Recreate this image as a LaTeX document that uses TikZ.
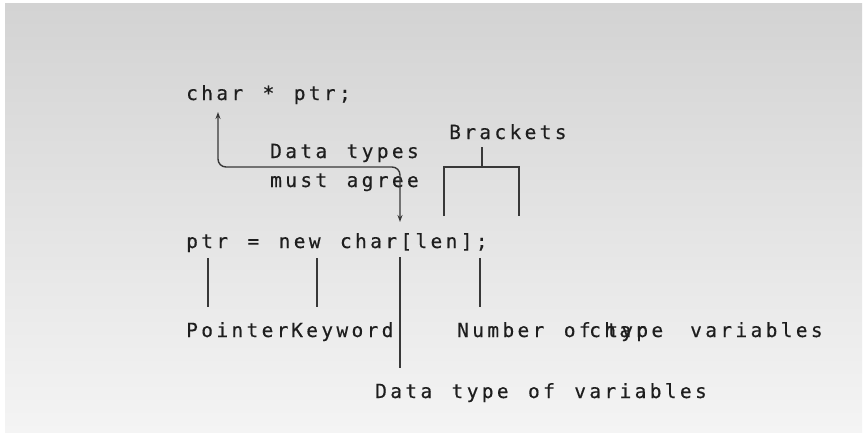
\documentclass[tikz,border=0pt]{standalone}
\usepackage{fontspec}
\usepackage{xcolor}
\usepackage{tikz}
\usetikzlibrary{arrows.meta}
\newfontfamily\codefont{DejaVu Sans Mono}[LetterSpace=17.2, WordSpace={1.286,0,0}, FakeBold=0.4]
\definecolor{bgtop}{HTML}{D3D3D3}
\definecolor{bgbottom}{HTML}{F4F4F4}
\definecolor{inkgray}{HTML}{1E1E1E}
\definecolor{leadgray}{HTML}{383838}

\begin{document}
\begin{tikzpicture}[
    x=1pt, y=-1pt,
    codetext/.style={anchor=base west, inner sep=0pt, text=inkgray,
      font=\codefont\fontsize{19.5pt}{23pt}\selectfont},
    leadline/.style={draw=leadgray, line width=1.2pt},
    typearrow/.style={{Stealth[length=7pt,width=5pt]}-{Stealth[length=7pt,width=5pt]},
      draw=leadgray, line width=1.4pt, rounded corners=8pt}
  ]

  % ============ Background (grey gradient, thin white margin) ============
  \useasboundingbox (0,0) rectangle (866,436);
  \fill[white] (0,0) rectangle (866,436);
  \shade[top color=bgtop, bottom color=bgbottom] (5,4) rectangle (862,432);

  % ============ Code lines ============
  \node[codetext] (decl)  at (186,100) {char * ptr;};
  \node[codetext] (alloc) at (186,248) {ptr = new char[len];};

  % ============ Labels ============
  \node[codetext] (brackets) at (449,139) {Brackets};
  \node[codetext] (agree1)   at (270,158) {Data types};
  \node[codetext] (agree2)   at (270,187) {must agree};

  \node[codetext] (pointer)  at (186,337) {Pointer};
  \node[codetext] (keyword)  at (291,337) {Keyword};
  \node[codetext] (number)   at (457,337) {Number of};
  \node[codetext] (charlab)  at (589,337) {char};
  \node[codetext] (typelab)  at (606,337) {type};
  \node[codetext] (vars)     at (690,337) {variables};
  \node[codetext] (dtype)    at (375,398) {Data type of variables};

  % ============ Data types must agree (arrow both ways) ============
  \draw[typearrow] ([shift={(32,12)}]decl.base west) -- ++(0,55)
    -| ([shift={(214,-26)}]alloc.base west);

  % ============ Brackets ============
  \draw[leadline] ([shift={(33,8)}]brackets.base west) -- ++(0,20);
  \draw[leadline] ([shift={(-5,77)}]brackets.base west)
    |- ([shift={(70,28)}]brackets.base west) -- ++(0,49);

  % ============ Leads from the code to the labels ============
  \draw[leadline] ([shift={(22,10)}]alloc.base west)  -- ([shift={(22,-30)}]pointer.base west);
  \draw[leadline] ([shift={(131,10)}]alloc.base west) -- ([shift={(26,-30)}]keyword.base west);
  \draw[leadline] ([shift={(294,10)}]alloc.base west) -- ([shift={(23,-30)}]number.base west);
  \draw[leadline] ([shift={(214,9)}]alloc.base west)  -- ([shift={(25,-30)}]dtype.base west);

\end{tikzpicture}
\end{document}
